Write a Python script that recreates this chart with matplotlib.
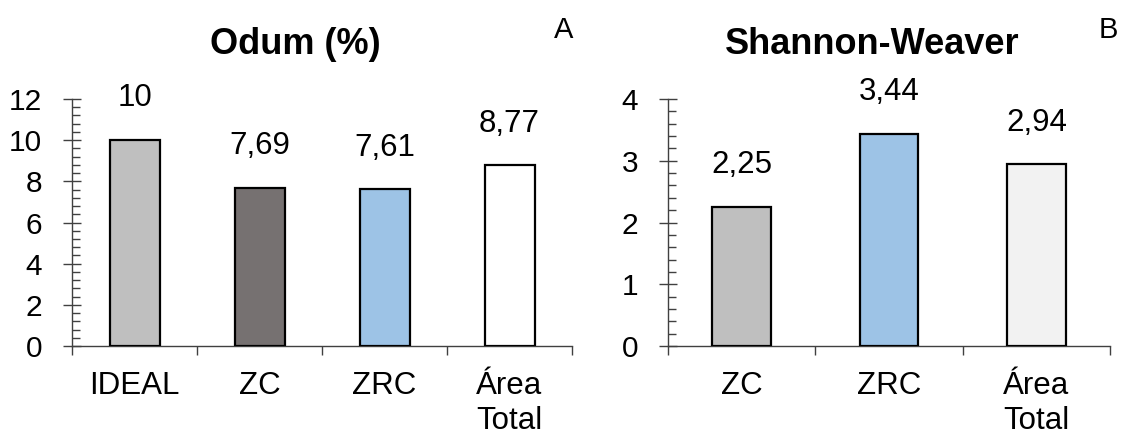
import numpy as np
import matplotlib
matplotlib.use("Agg")
import matplotlib.pyplot as plt
from matplotlib.ticker import MultipleLocator, FixedLocator

plt.rcParams['font.family'] = ['Liberation Sans', 'DejaVu Sans']

# data
odum_cats = ["IDEAL", "ZC", "ZRC", "Área\nTotal"]
odum_vals = [10, 7.69, 7.61, 8.77]
odum_colors = ["#BFBFBF", "#767171", "#9DC3E6", "#FFFFFF"]

sw_cats = ["ZC", "ZRC", "Área\nTotal"]
sw_vals = [2.25, 3.44, 2.94]
sw_colors = ["#BFBFBF", "#9DC3E6", "#F2F2F2"]


def fmt(v):
    # comma as decimal separator, like the original
    s = str(int(v)) if v == int(v) else f"{v:.2f}"
    return s.replace(".", ",")


def draw_panel(ax, cats, vals, colors, ymax, major, minor):
    x = np.arange(len(cats))
    ax.bar(x, vals, width=0.4, color=colors, edgecolor="black", linewidth=1.6, zorder=3)
    for xi, v in zip(x, vals):
        ax.annotate(fmt(v), (xi, v), xytext=(0, 30), textcoords="offset points",
                    ha="center", va="center", fontsize=22.5)
    ax.set_xlim(-0.5, len(cats) - 0.5)
    ax.set_ylim(0, ymax)
    ax.spines["top"].set_visible(False)
    ax.spines["right"].set_visible(False)
    for s in ("left", "bottom"):
        ax.spines[s].set_linewidth(1.0)
        ax.spines[s].set_color("#404040")
    ax.yaxis.set_major_locator(MultipleLocator(major))
    ax.yaxis.set_minor_locator(MultipleLocator(minor))
    ax.tick_params(axis="y", which="major", direction="inout", length=13, width=1.0,
                   labelsize=21.5, pad=15, color="#404040")
    ax.tick_params(axis="y", which="minor", direction="in", length=5.5, width=1.0, color="#404040")
    ax.set_xticks(x)
    ax.set_xticklabels(cats, fontsize=22.5, va="top")
    ax.xaxis.set_minor_locator(FixedLocator(np.arange(len(cats) + 1) - 0.5))
    ax.tick_params(axis="x", which="major", length=0, pad=18)
    ax.tick_params(axis="x", which="minor", direction="out", length=6.5, width=1.0, color="#404040")


fig = plt.figure(figsize=(11.21, 4.32), dpi=100)
ax1 = fig.add_axes([72 / 1121, 86 / 432, 500 / 1121, 247 / 432])
ax2 = fig.add_axes([668 / 1121, 86 / 432, 442 / 1121, 247 / 432])

draw_panel(ax1, odum_cats, odum_vals, odum_colors, 12, 2, 0.4)
draw_panel(ax2, sw_cats, sw_vals, sw_colors, 4, 1, 0.2)

fig.text(295 / 1121, 1 - 44 / 432, "Odum (%)", ha="center", va="center",
         fontsize=26, fontweight="bold")
fig.text(872 / 1121, 1 - 44 / 432, "Shannon-Weaver", ha="center", va="center",
         fontsize=26, fontweight="bold")
fig.text(564 / 1121, 1 - 30 / 432, "A", ha="center", va="center", fontsize=21)
fig.text(1108 / 1121, 1 - 30 / 432, "B", ha="center", va="center", fontsize=21)

fig.savefig("out.png", dpi=100)
